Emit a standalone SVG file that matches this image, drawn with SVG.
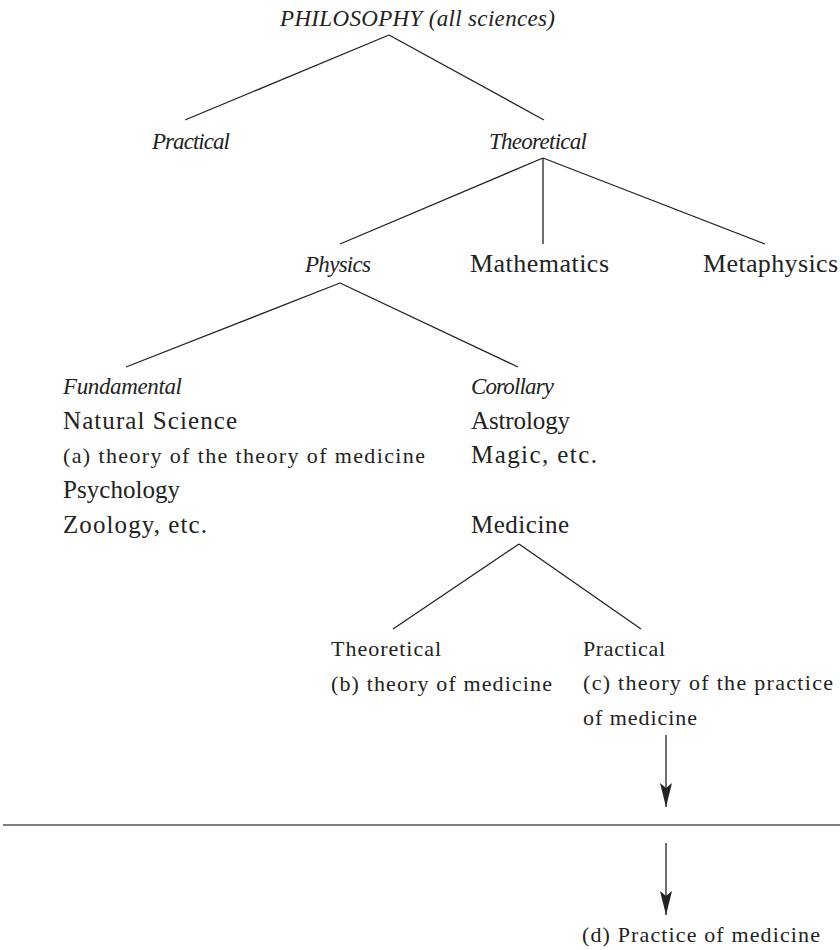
<svg xmlns="http://www.w3.org/2000/svg" width="840" height="950" viewBox="0 0 840 950">
<style>
text{fill:#222}
.it{font-style:italic;font-size:23px}
.up{font-size:25px}
.upl{font-size:26px}
.sm{font-size:22px}
.ln{stroke:#222;stroke-width:1.3;fill:none}
</style>
<defs>
<marker id="ah" markerUnits="userSpaceOnUse" markerWidth="24" markerHeight="12" refX="24" refY="6" orient="auto">
<path d="M0,0 L24,6 L0,12 L5,6 z" fill="#222"/>
</marker>
</defs>
<rect width="840" height="950" fill="#fff"/>
<g id="connectors">
<line class="ln" x1="389" y1="35" x2="185" y2="120"/>
<line class="ln" x1="389" y1="35" x2="544" y2="120"/>
<line class="ln" x1="543" y1="158" x2="340" y2="244"/>
<line class="ln" x1="543" y1="158" x2="543" y2="244"/>
<line class="ln" x1="543" y1="158" x2="765" y2="244"/>
<line class="ln" x1="340" y1="283" x2="126" y2="367"/>
<line class="ln" x1="340" y1="283" x2="518" y2="367"/>
<line class="ln" x1="519" y1="544" x2="393" y2="629"/>
<line class="ln" x1="519" y1="544" x2="641" y2="629"/>
<line class="ln" x1="666" y1="735" x2="666" y2="807" marker-end="url(#ah)"/>
<line class="ln" x1="666" y1="843" x2="666" y2="915" marker-end="url(#ah)"/>
<line x1="3" y1="825" x2="840" y2="825" stroke="#555" stroke-width="1.6"/>
</g>
<g font-family="Liberation Serif, DejaVu Serif, serif">
<g id="philosophy"><text class="it" x="280" y="26" textLength="275" lengthAdjust="spacing">PHILOSOPHY (all sciences)</text></g>
<g id="practical"><text class="it" x="152" y="149" textLength="78" lengthAdjust="spacing">Practical</text></g>
<g id="theoretical"><text class="it" x="489" y="149" textLength="98" lengthAdjust="spacing">Theoretical</text></g>
<g id="physics"><text class="it" x="305" y="272" textLength="66" lengthAdjust="spacing">Physics</text></g>
<g id="mathematics"><text class="upl" x="470" y="272" textLength="139" lengthAdjust="spacing">Mathematics</text></g>
<g id="metaphysics"><text class="upl" x="703" y="272" textLength="135" lengthAdjust="spacing">Metaphysics</text></g>
<g id="fundamental">
<text class="it" x="63" y="394" textLength="119" lengthAdjust="spacing">Fundamental</text>
<text class="up" x="63" y="429" textLength="174" lengthAdjust="spacing">Natural Science</text>
<text class="sm" x="63" y="463" textLength="362" lengthAdjust="spacing">(a) theory of the theory of medicine</text>
<text class="up" x="63" y="498" textLength="117" lengthAdjust="spacing">Psychology</text>
<text class="up" x="63" y="533" textLength="144" lengthAdjust="spacing">Zoology, etc.</text>
</g>
<g id="corollary">
<text class="it" x="471" y="394" textLength="83" lengthAdjust="spacing">Corollary</text>
<text class="up" x="471" y="429" textLength="99" lengthAdjust="spacing">Astrology</text>
<text class="up" x="471" y="463" textLength="126" lengthAdjust="spacing">Magic, etc.</text>
</g>
<g id="medicine"><text class="up" x="471" y="533" textLength="98" lengthAdjust="spacing">Medicine</text></g>
<g id="med-theoretical">
<text class="sm" x="331" y="656" textLength="110" lengthAdjust="spacing">Theoretical</text>
<text class="sm" x="331" y="691" textLength="221" lengthAdjust="spacing">(b) theory of medicine</text>
</g>
<g id="med-practical">
<text class="sm" x="583" y="656" textLength="82" lengthAdjust="spacing">Practical</text>
<text class="sm" x="583" y="690" textLength="250" lengthAdjust="spacing">(c) theory of the practice</text>
<text class="sm" x="583" y="725" textLength="114" lengthAdjust="spacing">of medicine</text>
</g>
<g id="practice"><text class="sm" x="582" y="942" textLength="238" lengthAdjust="spacing">(d) Practice of medicine</text></g>
</g>
</svg>
